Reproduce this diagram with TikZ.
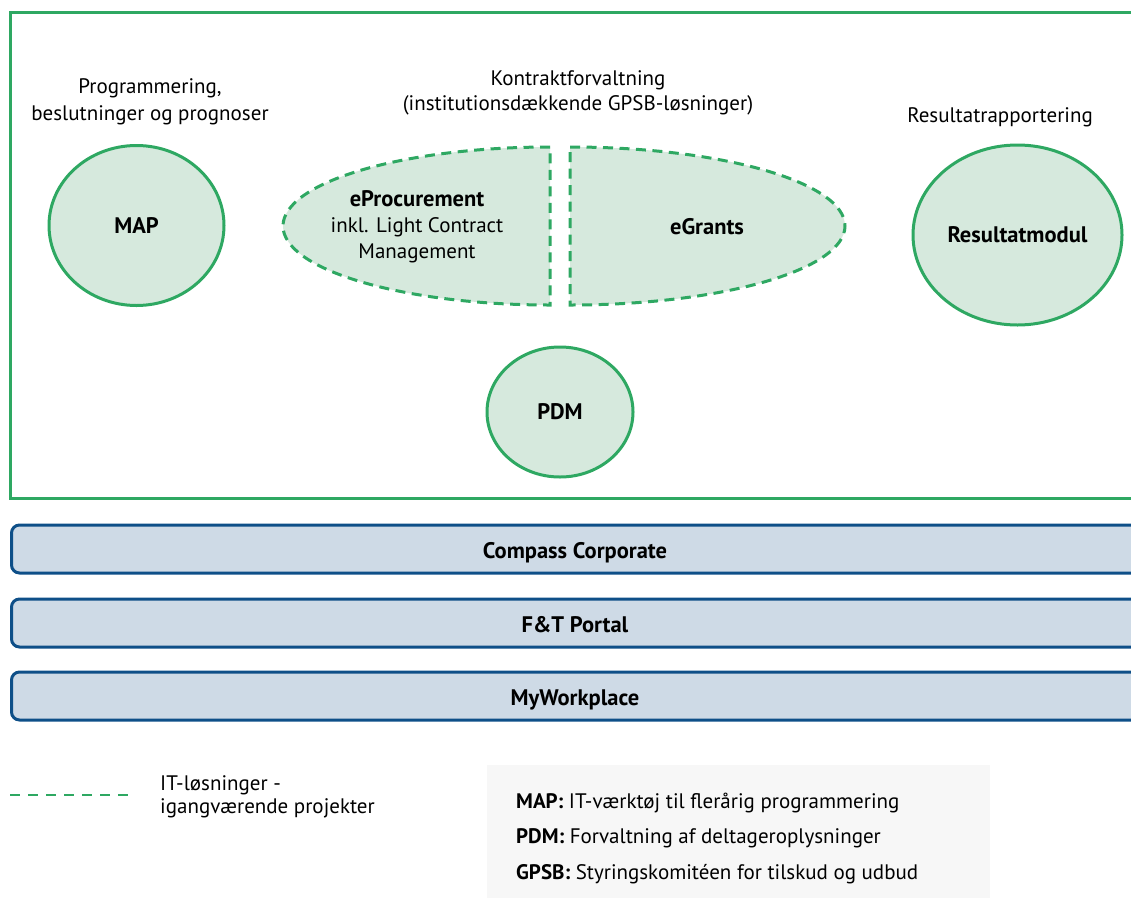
\documentclass[tikz,border=0pt]{standalone}
\usepackage{fontspec}
\setmainfont{PT Sans}
\usetikzlibrary{shapes.geometric}
\definecolor{grn}{HTML}{2EA862}
\definecolor{grnfill}{HTML}{D6E9DD}
\definecolor{blu}{HTML}{0E4F88}
\definecolor{blufill}{HTML}{CEDAE6}
\definecolor{greybg}{HTML}{F7F7F7}
\tikzset{
  sysell/.style={ellipse, draw=grn, fill=grnfill, line width=3pt, inner sep=0pt, font=\bfseries\fontsize{22.5}{26}\selectfont},
  halfell/.style={draw=grn, fill=grnfill, line width=3pt, dash pattern=on 10pt off 6.5pt},
  lbl/.style={align=center, font=\fontsize{21}{27}\selectfont, inner sep=0pt},
  bar/.style={draw=blu, fill=blufill, line width=3pt, rounded corners=8pt, minimum height=48pt, minimum width=1160pt, inner sep=0pt, anchor=west},
  bartxt/.style={font=\bfseries\fontsize{22.5}{26}\selectfont, inner sep=0pt, anchor=base},
  legtxt/.style={font=\fontsize{21}{24}\selectfont, inner sep=0pt, anchor=base west},
}
\begin{document}
\begin{tikzpicture}[x=1pt,y=-1pt]
\useasboundingbox (0,0) rectangle (1131,897);
\clip (0,0) rectangle (1131,897);
% outer frame
\draw[grn, line width=3pt] (10,12) rectangle (1150,498);
% labels
\node[lbl] (lprog) at (150,102) {Programmering,\\beslutninger og prognoser};
\node[lbl, font=\fontsize{21}{24.5}\selectfont] (lkon) at (578,93) {Kontraktforvaltning\\(institutionsdækkende GPSB-løsninger)};
\node[lbl] (lres) at (1000,117) {Resultatrapportering};
% ellipses
\node[sysell, minimum width=175pt, minimum height=160pt] (map) at (136.5,225.5) {MAP};
\node[sysell, minimum width=209pt, minimum height=180pt] (res) at (1017.5,235) {Resultatmodul};
\node[sysell, minimum width=146pt, minimum height=130pt] (pdm) at (560,412) {PDM};
% split ellipse
\draw[halfell] (550,147) arc[start angle=-90, end angle=-270, x radius=267, y radius=79] -- cycle;
\draw[halfell] (570,147) arc[start angle=-90, end angle=90, x radius=275, y radius=79] -- cycle;
\node[lbl, font=\fontsize{21}{26}\selectfont] (eproc) at (417,227) {{\fontsize{22.5}{26}\selectfont\bfseries eProcurement}\\inkl. Light Contract\\Management};
\node[lbl, font=\bfseries\fontsize{22.5}{26}\selectfont] (egr) at (707,227) {eGrants};
% bars
\node[bar] (b1) at (10,549) {};
\node[bar] (b2) at (10,623) {};
\node[bar] (b3) at (10,696) {};
\node[bartxt] (t1) at (575,558) {Compass Corporate};
\node[bartxt] (t2) at (575,632) {F\&T Portal};
\node[bartxt] (t3) at (575,705) {MyWorkplace};
% legend
\coordinate (la) at (10,795);
\coordinate (lb) at (128,795);
\draw[grn, line width=2.5pt, dash pattern=on 10pt off 8pt] (la) -- (lb);
\node[legtxt, align=left, font=\fontsize{21}{23}\selectfont, anchor=north west] (leg) at (160,775) {IT-løsninger -\\igangværende projekter};
\fill[greybg] (487,765) rectangle (990,900);
\node[legtxt] (g1) at (516,808) {\textbf{MAP:} IT-værktøj til flerårig programmering};
\node[legtxt] (g2) at (516,843) {\textbf{PDM:} Forvaltning af deltageroplysninger};
\node[legtxt] (g3) at (516,879) {\textbf{GPSB:} Styringskomitéen for tilskud og udbud};
\end{tikzpicture}
\end{document}
